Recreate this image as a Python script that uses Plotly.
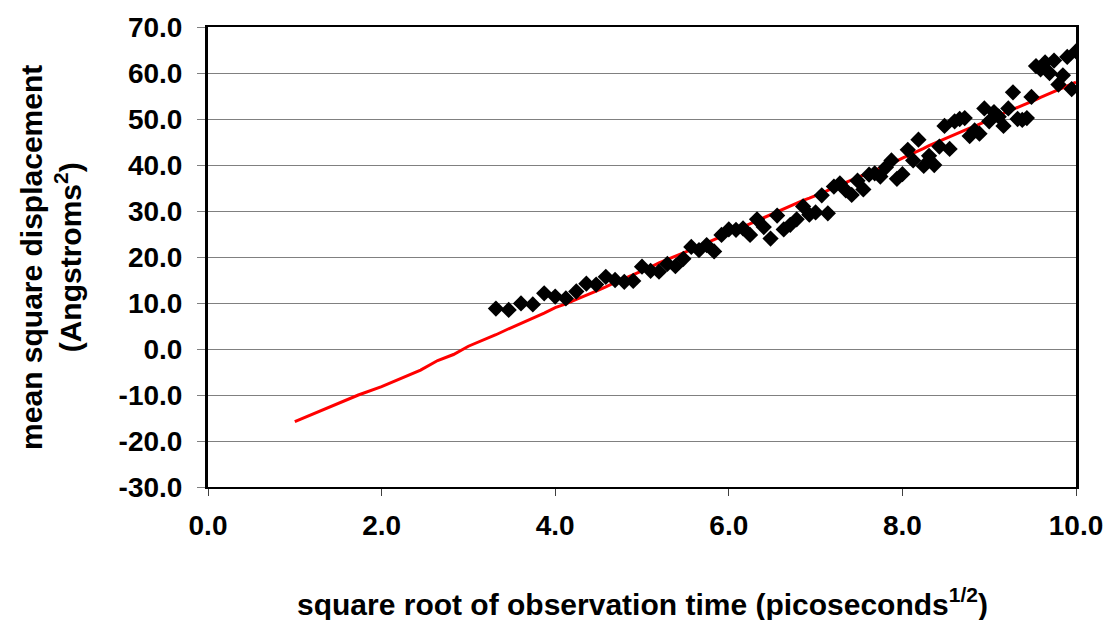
import plotly.graph_objects as go

# square root of observation time for t = 1..100 ps
sqrt_time = [1.000, 1.414, 1.732, 2.000, 2.236, 2.449, 2.646, 2.828, 3.000, 3.162,
             3.317, 3.464, 3.606, 3.742, 3.873, 4.000, 4.123, 4.243, 4.359, 4.472,
             4.583, 4.690, 4.796, 4.899, 5.000, 5.099, 5.196, 5.292, 5.385, 5.477,
             5.568, 5.657, 5.745, 5.831, 5.916, 6.000, 6.083, 6.164, 6.245, 6.325,
             6.403, 6.481, 6.557, 6.633, 6.708, 6.782, 6.856, 6.928, 7.000, 7.071,
             7.141, 7.211, 7.280, 7.348, 7.416, 7.483, 7.550, 7.616, 7.681, 7.746,
             7.810, 7.874, 7.937, 8.000, 8.062, 8.124, 8.185, 8.246, 8.307, 8.367,
             8.426, 8.485, 8.544, 8.602, 8.660, 8.718, 8.775, 8.832, 8.888, 8.944,
             9.000, 9.055, 9.110, 9.165, 9.220, 9.274, 9.327, 9.381, 9.434, 9.487,
             9.539, 9.592, 9.644, 9.695, 9.747, 9.798, 9.849, 9.899, 9.950, 10.000]

# fitted line (red)
fit_msd = [-15.8, -12.6, -10.0, -8.2, -6.3, -4.6, -2.5, -1.2, 0.6, 1.8,
           3.1, 4.4, 5.6, 6.6, 7.8, 9.0, 9.8, 10.8, 11.8, 12.6,
           13.5, 14.5, 15.3, 16.1, 17.0, 17.8, 18.7, 19.5, 20.2, 20.9,
           21.6, 22.4, 23.2, 23.8, 24.5, 25.2, 25.9, 26.6, 27.3, 27.9,
           28.6, 29.2, 29.9, 30.4, 31.0, 31.7, 32.3, 32.8, 33.3, 33.9,
           34.5, 35.1, 35.7, 36.2, 36.8, 37.3, 37.8, 38.4, 38.9, 39.3,
           39.8, 40.4, 40.9, 41.5, 42.0, 42.6, 43.1, 43.6, 44.2, 44.7,
           45.2, 45.7, 46.2, 46.6, 47.1, 47.5, 48.0, 48.4, 48.9, 49.3,
           49.8, 50.3, 50.8, 51.2, 51.7, 52.1, 52.5, 53.0, 53.4, 53.8,
           54.2, 54.7, 55.1, 55.5, 55.9, 56.4, 56.8, 57.2, 57.6, 58.0]

# measured mean square displacement, t = 11..100 ps
measured_msd = [8.8, 8.5, 9.9, 9.7, 12.1, 11.4, 11.0, 12.5, 14.2, 14.0,
                15.7, 15.0, 14.6, 14.8, 17.9, 17.0, 16.8, 18.5, 18.0, 19.6,
                22.2, 21.5, 22.6, 21.2, 24.8, 26.0, 25.9, 26.2, 24.8, 28.2,
                26.5, 24.0, 29.0, 26.0, 27.0, 28.2, 31.0, 29.2, 29.7, 33.4,
                29.5, 35.3, 36.0, 34.5, 33.5, 36.6, 34.7, 37.9, 38.2, 37.5,
                39.5, 41.0, 37.0, 38.0, 43.3, 41.0, 45.5, 39.8, 42.0, 40.0,
                44.0, 48.5, 43.5, 49.5, 50.0, 50.2, 46.3, 47.5, 46.8, 52.3,
                49.5, 51.5, 50.5, 48.5, 52.3, 55.8, 50.0, 49.8, 50.2, 54.8,
                61.5, 60.8, 62.3, 60.0, 62.7, 57.5, 59.5, 63.5, 56.5, 64.7]
measured_x = sqrt_time[10:]

x_ticks = [0, 2, 4, 6, 8, 10]
x_labels = ["0.0", "2.0", "4.0", "6.0", "8.0", "10.0"]
y_ticks = [-30, -20, -10, 0, 10, 20, 30, 40, 50, 60, 70]
y_labels = ["-30.0", "-20.0", "-10.0", "0.0", "10.0", "20.0", "30.0",
            "40.0", "50.0", "60.0", "70.0"]

FONT = "Liberation Sans, Arial, sans-serif"
TICKFONT = dict(family=FONT, size=28, color="black", weight="bold")
TITLEFONT = dict(family=FONT, size=30, color="black", weight="bold")

fig = go.Figure()
fig.add_trace(go.Scatter(x=sqrt_time, y=fit_msd, mode="lines",
                         line=dict(color="#ff0000", width=3), showlegend=False))
fig.add_trace(go.Scatter(x=measured_x, y=measured_msd, mode="markers",
                         marker=dict(symbol="diamond", size=12.5, color="black",
                                     line=dict(width=0)),
                         showlegend=False))

fig.update_layout(
    width=1115, height=620,
    margin=dict(l=208, r=35, t=23, b=133),
    paper_bgcolor="white", plot_bgcolor="white",
    font=dict(family=FONT, size=28, color="black", weight="bold"),
    xaxis=dict(range=[0, 10], tickvals=x_ticks, ticktext=x_labels,
               showgrid=False, zeroline=False,
               showline=True, linecolor="black", linewidth=2, mirror=True,
               ticks="outside", ticklen=7, tickwidth=1, tickcolor="#404040",
               ticklabelstandoff=5, tickfont=TICKFONT),
    yaxis=dict(range=[-30, 70], tickvals=y_ticks, ticktext=y_labels,
               showgrid=True, gridcolor="#808080", gridwidth=1, zeroline=False,
               showline=True, linecolor="black", linewidth=3, mirror=True,
               ticks="outside", ticklen=8, tickwidth=1, tickcolor="#808080",
               ticklabelstandoff=9, tickfont=TICKFONT),
    annotations=[
        dict(text="square root of observation time (picoseconds<sup>1/2</sup>)",
             xref="paper", yref="paper", x=0.5, y=-0.25, xanchor="center", yanchor="middle",
             showarrow=False, font=TITLEFONT),
        dict(text="mean square displacement<br>(Angstroms<sup>2</sup>)",
             xref="paper", yref="paper", x=-0.181, y=0.5, xanchor="center", yanchor="middle",
             textangle=-90, showarrow=False, font=TITLEFONT),
    ],
)

fig.write_html("out.html")
